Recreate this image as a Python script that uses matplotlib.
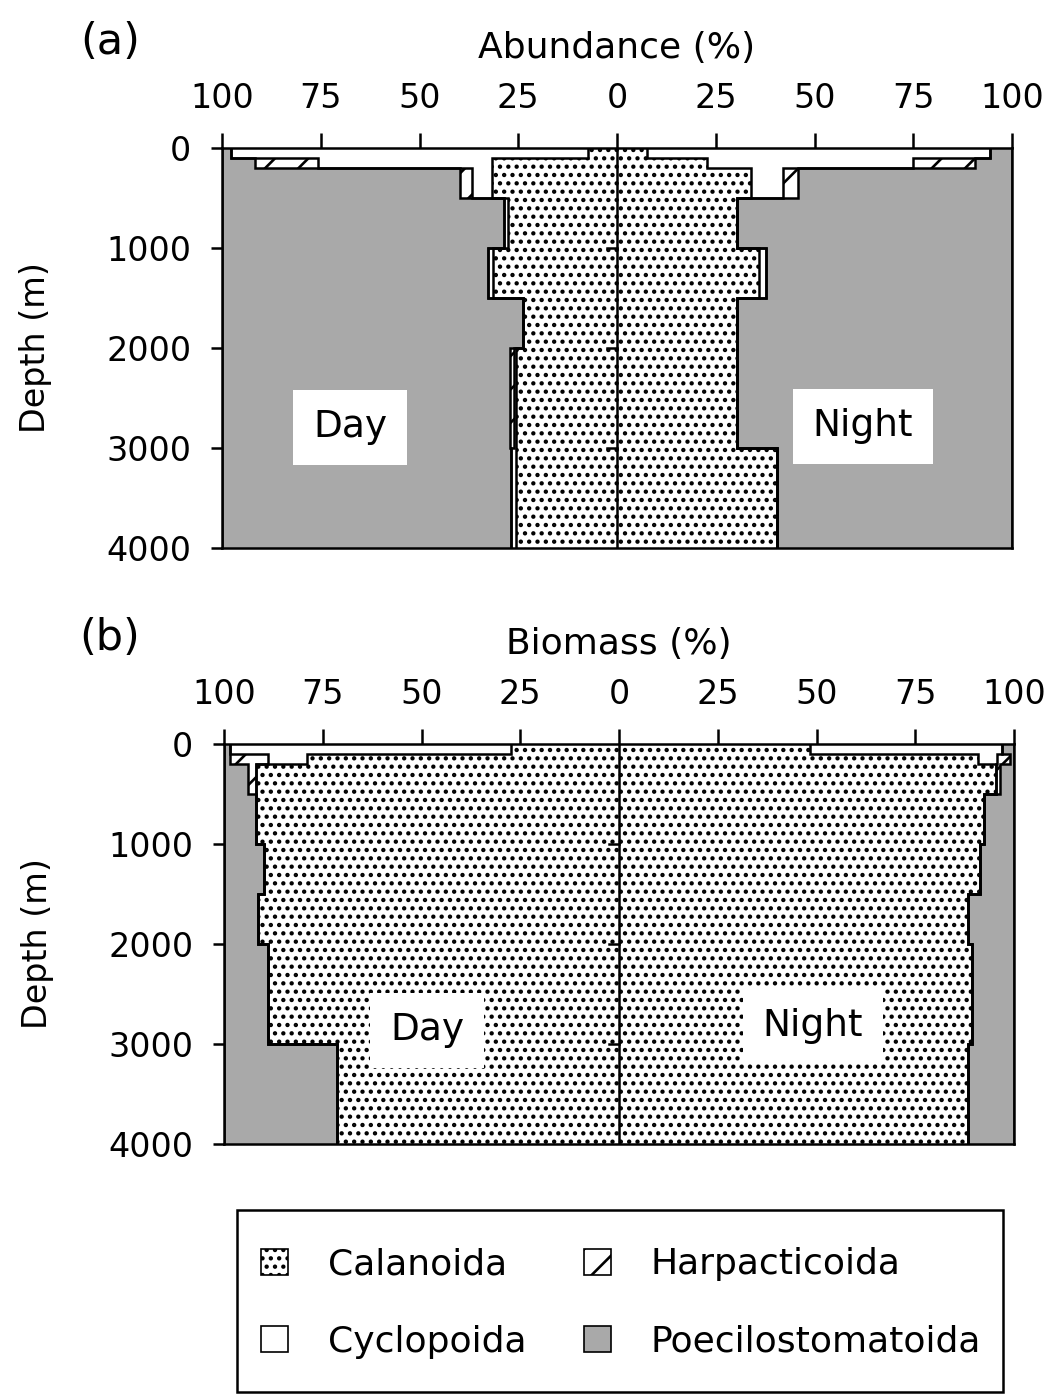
import matplotlib
matplotlib.use("Agg")
import matplotlib.pyplot as plt
import numpy as np
from matplotlib.patches import Patch, Rectangle

plt.rcParams["font.family"] = ["DejaVu Sans"]
plt.rcParams["hatch.linewidth"] = 1.9

# depth layers (m)
DEPTH_EDGES = [0, 100, 200, 500, 1000, 1500, 2000, 3000, 4000]

TAXA = ["Calanoida", "Cyclopoida", "Harpacticoida", "Poecilostomatoida"]

# composition per layer (%), order: Calanoida, Cyclopoida, Harpacticoida, Poecilostomatoida
abund_day_cal = [7.3, 31.7, 31.7, 27.5, 31.4, 23.9, 25.6, 25.6]
abund_day_cyc = [90.5, 43.9, 5.1, 1.1, 1.2, 0.0, 0.6, 1.3]
abund_day_har = [0.0, 16.0, 2.9, 0.0, 0.0, 0.0, 0.9, 0.0]
abund_day_poe = [2.2, 8.4, 60.3, 71.4, 67.4, 76.1, 72.9, 73.1]

abund_night_cal = [7.6, 22.8, 33.8, 30.5, 36.0, 30.5, 30.5, 40.6]
abund_night_cyc = [86.9, 52.2, 8.1, 0.0, 1.8, 0.0, 0.0, 0.0]
abund_night_har = [0.0, 15.7, 3.8, 0.0, 0.0, 0.0, 0.0, 0.0]
abund_night_poe = [5.5, 9.3, 54.3, 69.5, 62.2, 69.5, 69.5, 59.4]

bio_day_cal = [27.3, 79.0, 91.8, 91.8, 90.0, 91.3, 88.8, 71.4]
bio_day_cyc = [71.2, 9.8, 0.0, 0.0, 0.0, 0.0, 0.0, 0.0]
bio_day_har = [0.0, 9.7, 2.2, 0.0, 0.0, 0.0, 0.0, 0.0]
bio_day_poe = [1.5, 1.5, 6.0, 8.2, 10.0, 8.7, 11.2, 28.6]

bio_night_cal = [48.3, 91.0, 95.5, 92.3, 91.4, 88.4, 89.3, 88.4]
bio_night_cyc = [48.7, 4.8, 0.0, 0.0, 0.0, 0.0, 0.0, 0.0]
bio_night_har = [0.0, 3.2, 1.0, 0.0, 0.0, 0.0, 0.0, 0.0]
bio_night_poe = [3.0, 1.0, 3.5, 7.7, 8.6, 11.6, 10.7, 11.6]

STYLE = {
    "Calanoida": dict(facecolor="white", hatch=".."),
    "Cyclopoida": dict(facecolor="white", hatch=None),
    "Harpacticoida": dict(facecolor="white", hatch="/"),
    "Poecilostomatoida": dict(facecolor="#a9a9a9", hatch=None),
}

FS = 24
LW = 1.8


def ext(v):
    # repeat last layer value so it matches the depth edges
    v = np.asarray(v, dtype=float)
    return np.append(v, v[-1])


def draw_side(ax, series, sign):
    y = np.array(DEPTH_EDGES, dtype=float)
    cum = np.zeros(len(y) - 1)
    bounds = []
    for name, vals in zip(TAXA, series):
        new = cum + np.asarray(vals, dtype=float)
        ax.fill_betweenx(y, sign * ext(cum), sign * ext(new), step="post",
                         edgecolor="black", linewidth=0, **STYLE[name])
        cum = new
        bounds.append(cum.copy())
    # outlines of every cumulative boundary, as step profiles
    for b in bounds:
        ax.plot(sign * ext(b), y, drawstyle="steps-pre", color="black",
                lw=LW, solid_joinstyle="miter", zorder=4)


def panel(ax, day, night, xlabel, day_xy, night_xy):
    draw_side(ax, day, -1)
    draw_side(ax, night, +1)
    ax.set_xlim(-100, 100)
    ax.set_ylim(4000, 0)
    ticks = np.arange(-100, 101, 25)
    ax.set_xticks(ticks)
    ax.set_xticklabels([str(abs(t)) for t in ticks])
    ax.set_yticks([0, 1000, 2000, 3000, 4000])
    ax.tick_params(axis="x", top=True, labeltop=True, bottom=False,
                   labelbottom=False, direction="out", length=11, width=LW,
                   pad=13, labelsize=FS)
    ax.tick_params(axis="y", left=True, right=False, direction="out",
                   length=8, width=LW, pad=14, labelsize=FS)
    for s in ax.spines.values():
        s.set_linewidth(LW)
        s.set_zorder(5)
    # centre line with small ticks
    ax.plot([0, 0], [0, 4000], color="black", lw=LW, zorder=5)
    for d in (1000, 2000, 3000):
        ax.plot([-2.5, 0], [d, d], color="black", lw=LW, zorder=5)
    ax.set_xlabel(xlabel, fontsize=FS + 2)
    ax.xaxis.set_label_position("top")
    ax.xaxis.set_label_coords(0.5, 1.225)
    ax.set_ylabel("Depth (m)", fontsize=FS)
    ax.yaxis.set_label_coords(-0.215, 0.5)
    box = dict(facecolor="white", edgecolor="none", pad=14)
    ax.text(*day_xy, "Day", ha="center", va="center", fontsize=FS + 3,
            bbox=box, zorder=6)
    ax.text(*night_xy, "Night", ha="center", va="center", fontsize=FS + 3,
            bbox=box, zorder=6)


W, H = 1051, 1394
fig = plt.figure(figsize=(W / 100, H / 100), dpi=100)
ax1 = fig.add_axes([222 / W, 1 - 548 / H, 790 / W, 400 / H])
ax2 = fig.add_axes([224 / W, 1 - 1144 / H, 790 / W, 400 / H])

panel(ax1,
      [abund_day_cal, abund_day_cyc, abund_day_har, abund_day_poe],
      [abund_night_cal, abund_night_cyc, abund_night_har, abund_night_poe],
      "Abundance (%)", (-67.6, 2790), (62.3, 2780))
panel(ax2,
      [bio_day_cal, bio_day_cyc, bio_day_har, bio_day_poe],
      [bio_night_cal, bio_night_cyc, bio_night_har, bio_night_poe],
      "Biomass (%)", (-48.6, 2860), (49.1, 2820))

fig.text(110 / W, 1 - 42 / H, "(a)", ha="center", va="center", fontsize=31)
fig.text(110 / W, 1 - 638 / H, "(b)", ha="center", va="center", fontsize=31)

handles = [Patch(edgecolor="black", linewidth=1.2, **STYLE[t]) for t in
           ["Calanoida", "Cyclopoida", "Harpacticoida", "Poecilostomatoida"]]
labels = ["Calanoida", "Cyclopoida", "Harpacticoida", "Poecilostomatoida"]
leg = fig.legend(handles, labels, ncol=2, loc="center",
                 bbox_to_anchor=(621 / W, 1 - 1303 / H), frameon=False,
                 fontsize=FS + 2, handlelength=0.75, handleheight=0.75,
                 handletextpad=1.1, columnspacing=1.6, labelspacing=1.2,
                 borderpad=0, borderaxespad=0)
# legend frame: wider vertical than horizontal padding, as in the source
fig.add_artist(Rectangle((237 / W, 1 - 1392 / H), 766 / W, 182 / H,
                         transform=fig.transFigure, fill=False,
                         edgecolor="black", linewidth=LW))

fig.savefig("out.png", dpi=100)
